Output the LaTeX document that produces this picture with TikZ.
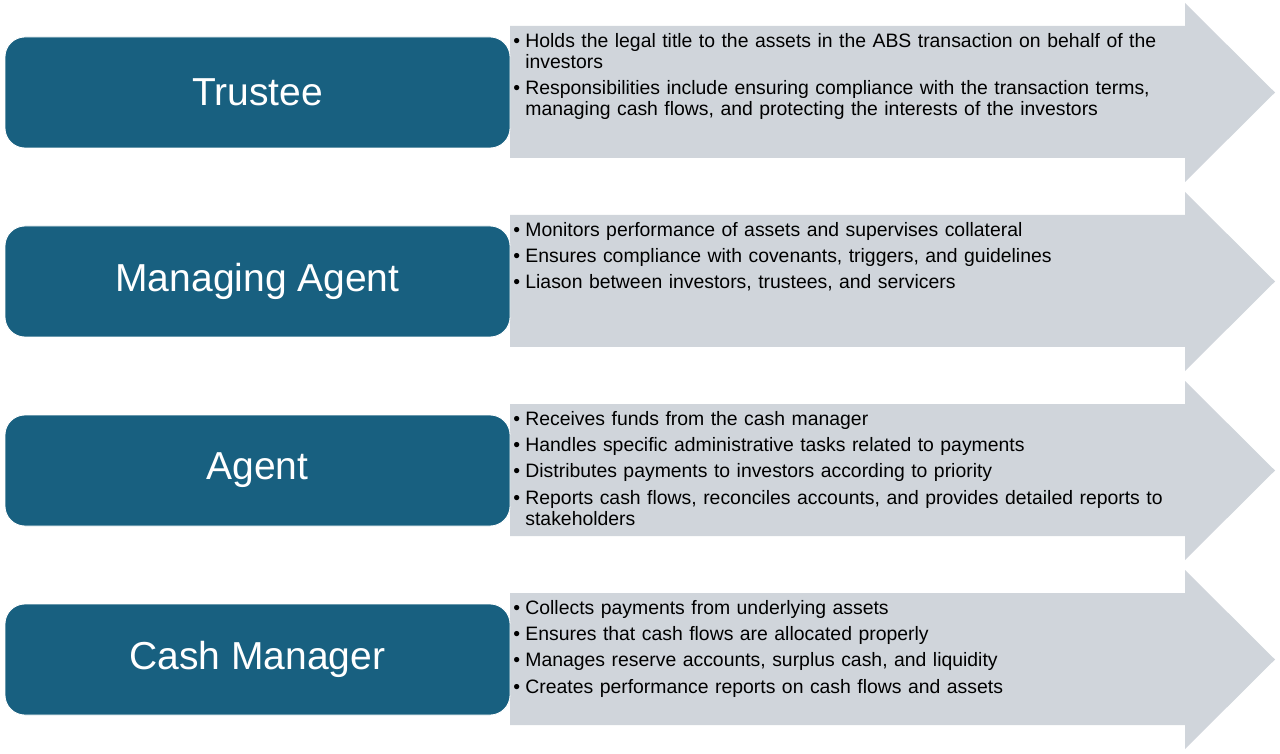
\documentclass[tikz,border=0pt]{standalone}
\usepackage{fontspec}
\setmainfont{Liberation Sans}
\definecolor{rolefill}{RGB}{24,96,128}
\definecolor{flowgray}{RGB}{208,213,219}
\newcommand{\duty}[1]{\hangindent=6pt\hangafter=1\noindent\makebox[6pt][l]{\textbullet}#1\par}
\newcommand{\nl}{\hfil\break}

\begin{document}
\begin{tikzpicture}[x=0.5pt,y=-0.5pt,flow/.style={fill=flowgray},role/.style={fill=rolefill, draw=white, line width=0.4pt, rounded corners=10pt, minimum width=252.5pt, minimum height=55.5pt, text=white, font=\fontsize{19.5pt}{23pt}\selectfont},duties/.style={anchor=north west, inner sep=0pt, text width=345pt, align=left, font=\fontsize{9.7pt}{10.5pt}\selectfont, execute at begin node={\setlength{\parskip}{2.6pt}}}]
\useasboundingbox (0,0) rectangle (1280,754);
\fill[flow] (510,26) -- (1185,26) -- (1185,3) -- (1275,92.5) -- (1185,182) -- (1185,158) -- (510,158) -- cycle;
\fill[flow] (510,215) -- (1185,215) -- (1185,192) -- (1275,281.5) -- (1185,371) -- (1185,347) -- (510,347) -- cycle;
\fill[flow] (510,404) -- (1185,404) -- (1185,381) -- (1275,470.5) -- (1185,560) -- (1185,536) -- (510,536) -- cycle;
\fill[flow] (510,593) -- (1185,593) -- (1185,570) -- (1275,659.5) -- (1185,749) -- (1185,725) -- (510,725) -- cycle;
\node[role] (trustee) at (257.5,92.5) {Trustee};
\node[role] (managing) at (257.5,281.5) {Managing Agent};
\node[role] (agent) at (257.5,470.5) {Agent};
\node[role] (cashmgr) at (257.5,659.5) {Cash Manager};
\node[duties] (trusteetasks) at (513,33) {\duty{Holds the legal title to the assets in the ABS transaction on behalf of the\nl investors}
\duty{Responsibilities include ensuring compliance with the transaction terms,\nl managing cash flows, and protecting the interests of the investors}};
\node[duties] (managingtasks) at (513,222) {\duty{Monitors performance of assets and supervises collateral}
\duty{Ensures compliance with covenants, triggers, and guidelines}
\duty{Liason between investors, trustees, and servicers}};
\node[duties] (agenttasks) at (513,411) {\duty{Receives funds from the cash manager}
\duty{Handles specific administrative tasks related to payments}
\duty{Distributes payments to investors according to priority}
\duty{Reports cash flows, reconciles accounts, and provides detailed reports to\nl stakeholders}};
\node[duties] (cashmgrtasks) at (513,600) {\duty{Collects payments from underlying assets}
\duty{Ensures that cash flows are allocated properly}
\duty{Manages reserve accounts, surplus cash, and liquidity}
\duty{Creates performance reports on cash flows and assets}};
\end{tikzpicture}
\end{document}
